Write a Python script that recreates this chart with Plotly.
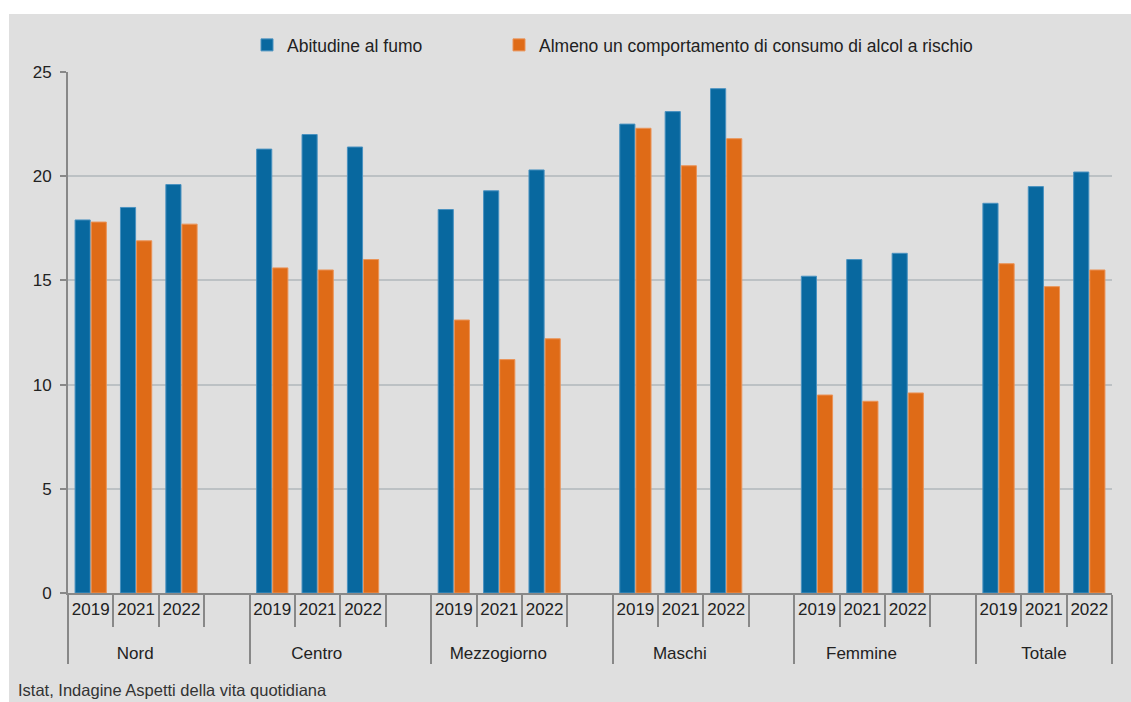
import plotly.graph_objects as go

groups = ["Nord", "Centro", "Mezzogiorno", "Maschi", "Femmine", "Totale"]
years = ["2019", "2021", "2022"]
fumo = {
    "Nord": [17.9, 18.5, 19.6],
    "Centro": [21.3, 22.0, 21.4],
    "Mezzogiorno": [18.4, 19.3, 20.3],
    "Maschi": [22.5, 23.1, 24.2],
    "Femmine": [15.2, 16.0, 16.3],
    "Totale": [18.7, 19.5, 20.2],
}
alcol = {
    "Nord": [17.8, 16.9, 17.7],
    "Centro": [15.6, 15.5, 16.0],
    "Mezzogiorno": [13.1, 11.2, 12.2],
    "Maschi": [22.3, 20.5, 21.8],
    "Femmine": [9.5, 9.2, 9.6],
    "Totale": [15.8, 14.7, 15.5],
}
series_names = ["Abitudine al fumo", "Almeno un comportamento di consumo di alcol a rischio"]
colors = ["#08689f", "#df6b17"]
line_colors = ["#4a92c0", "#eb9357"]

# multicategory x (with a blank spacer slot after every group but the last);
# group labels are padded so they centre over the three year slots
NB = "\u00a0"
outer, inner, yf, ya = [], [], [], []
for i, g in enumerate(groups):
    last = i == len(groups) - 1
    label = "<br>" + g + ("" if last else NB * 10)
    for j, yr in enumerate(years):
        outer.append(label); inner.append(yr)
        yf.append(fumo[g][j]); ya.append(alcol[g][j])
    if not last:
        outer.append(label); inner.append(" " * (i + 1))
        yf.append(None); ya.append(None)

L, R, T, B = 68, 19, 72, 109
W, H = 1131, 702
pw, ph = W - L - R, H - T - B

fig = go.Figure()
legend_ids = ["legend", "legend2"]
for name, vals, c, lc, lg in zip(series_names, [yf, ya], colors, line_colors, legend_ids):
    fig.add_trace(go.Bar(
        x=[outer, inner], y=vals, name=name, legend=lg,
        marker=dict(color=c, line=dict(color=lc, width=1)),
    ))

leg_common = dict(orientation="h", xanchor="left", yanchor="middle",
                  y=1 + (T - 45) / ph, font=dict(size=17.5, color="#222222"),
                  bgcolor="rgba(0,0,0,0)", itemwidth=30)

fig.update_layout(
    width=W, height=H,
    margin=dict(l=L, r=R, t=T, b=B),
    paper_bgcolor="white",
    plot_bgcolor="rgba(0,0,0,0)",
    barmode="group", bargap=0.29, bargroupgap=0.06,
    font=dict(family="Liberation Sans, Arial, sans-serif", size=17, color="#222222"),
    showlegend=True,
    legend=dict(x=(247 - L) / pw, **leg_common),
    legend2=dict(x=(499 - L) / pw, **leg_common),
    shapes=[dict(type="rect", xref="paper", yref="paper",
                 x0=(9 - L) / pw, x1=(W + 5 - L) / pw,
                 y0=-(B + 5) / ph, y1=1 + (T - 14) / ph,
                 fillcolor="#dfdfdf", line=dict(width=0), layer="below")],
    annotations=[dict(text="Istat, Indagine Aspetti della vita quotidiana",
                      xref="paper", yref="paper", x=(16 - L) / pw, y=-(690 - (H - B)) / ph,
                      xanchor="left", yanchor="middle", showarrow=False,
                      font=dict(family="Liberation Sans Narrow, Arial Narrow, Liberation Sans, sans-serif",
                                size=16.5, color="#333333"))],
)
fig.update_yaxes(range=[0, 25], dtick=5, showgrid=True, gridcolor="#bcc1c4", gridwidth=2,
                 showline=True, linecolor="#888888", linewidth=2,
                 ticks="outside", ticklen=6, tickcolor="#888888", tickwidth=2,
                 ticklabelstandoff=5,
                 zeroline=False, tickfont=dict(size=17, color="#222222"))
fig.update_xaxes(type="multicategory", showline=True, linecolor="#888888", linewidth=2,
                 ticks="outside", tickson="boundaries", ticklen=32, tickcolor="#888888", tickwidth=2,
                 tickangle=0,
                 showdividers=True, dividercolor="#888888", dividerwidth=2,
                 tickfont=dict(size=17, color="#222222"))

fig.write_html("out.html", config={"displayModeBar": False},
               post_script="document.body.style.margin='0';document.body.style.overflow='hidden';")
